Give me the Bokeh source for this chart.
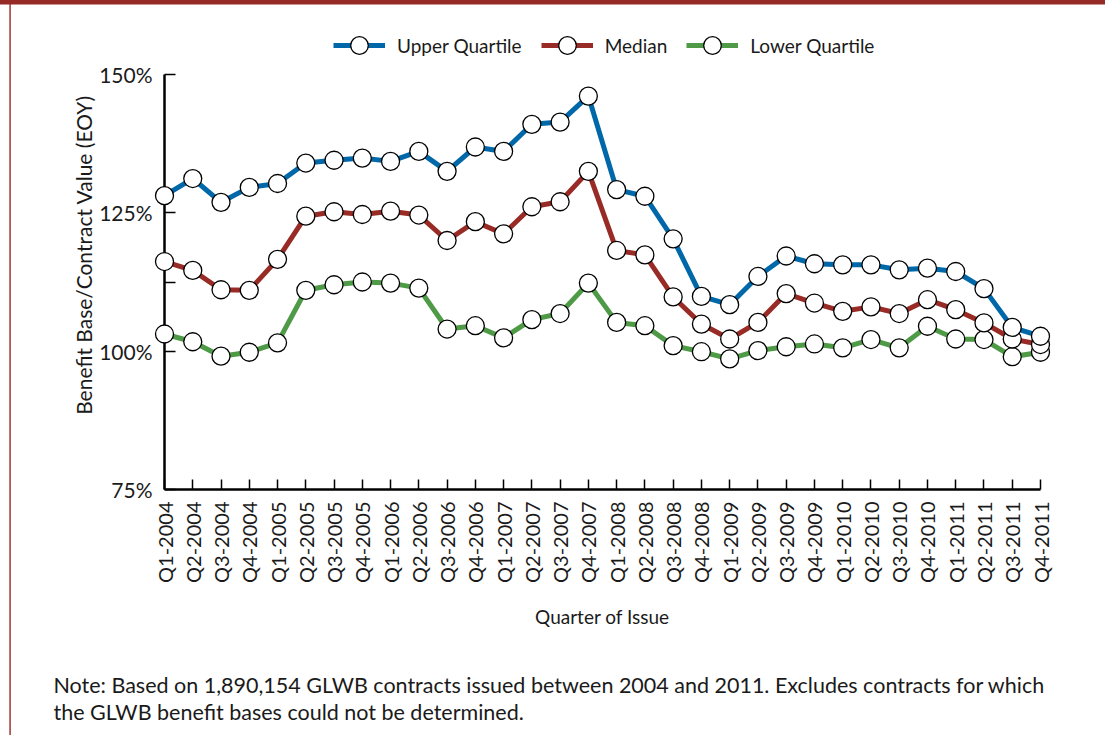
from bokeh.plotting import figure
from bokeh.models import (Range1d, FixedTicker, PrintfTickFormatter, Legend, LegendItem)
from bokeh.core.properties import value
from bokeh.embed import file_html
from bokeh.resources import INLINE
import math

quarters = ["Q1-2004", "Q2-2004", "Q3-2004", "Q4-2004",
            "Q1-2005", "Q2-2005", "Q3-2005", "Q4-2005",
            "Q1-2006", "Q2-2006", "Q3-2006", "Q4-2006",
            "Q1-2007", "Q2-2007", "Q3-2007", "Q4-2007",
            "Q1-2008", "Q2-2008", "Q3-2008", "Q4-2008",
            "Q1-2009", "Q2-2009", "Q3-2009", "Q4-2009",
            "Q1-2010", "Q2-2010", "Q3-2010", "Q4-2010",
            "Q1-2011", "Q2-2011", "Q3-2011", "Q4-2011"]

upper_quartile = [128.1, 131.2, 126.9, 129.6, 130.3, 134.0, 134.5, 134.9,
                  134.3, 136.1, 132.5, 136.9, 136.1, 141.0, 141.4, 146.1,
                  129.2, 128.0, 120.3, 109.9, 108.4, 113.5, 117.2, 115.8,
                  115.6, 115.6, 114.7, 115.0, 114.4, 111.3, 104.3, 102.7]

median = [116.2, 114.6, 111.1, 111.0, 116.6, 124.4, 125.2, 124.7,
          125.3, 124.6, 120.0, 123.4, 121.2, 126.1, 127.0, 132.5,
          118.2, 117.4, 109.8, 104.9, 102.2, 105.2, 110.4, 108.7,
          107.2, 108.0, 106.8, 109.3, 107.5, 105.1, 102.2, 101.2]

lower_quartile = [103.1, 101.7, 99.1, 99.8, 101.5, 111.0, 112.0, 112.5,
                  112.3, 111.4, 104.0, 104.6, 102.4, 105.7, 106.8, 112.3,
                  105.2, 104.6, 101.0, 99.9, 98.6, 100.1, 100.8, 101.3,
                  100.6, 102.1, 100.6, 104.5, 102.2, 102.1, 99.0, 99.8]

y_major_ticks = [75, 100, 125, 150]
y_minor_ticks = [112.5]

note_lines = ["Note: Based on 1,890,154 GLWB contracts issued between 2004 and 2011. Excludes contracts for which",
              "the GLWB benefit bases could not be determined."]

FONT = "Lato"
BLUE = "#0068a8"
RED = "#982b25"
GREEN = "#4e9a47"
FRAME = "#962a26"
TXT = "#1a1a1a"

xs = list(range(len(quarters)))

# frame reaches above the 150% line so that the legend sits inside it
p = figure(width=1105, height=735,
           min_border_left=164, min_border_right=65,
           min_border_top=20, min_border_bottom=246,
           x_range=Range1d(0, len(quarters) - 1), y_range=Range1d(75, 159.76),
           output_backend="svg", toolbar_location=None,
           background_fill_color="white", border_fill_color="white")
p.outline_line_color = None
p.grid.visible = False

# page frame: dark red band on top and thin line on the left (decoration)
p.quad(left=[-10], right=[40], bottom=[162.65], top=[170], fill_color=FRAME,
       line_color=None, level="overlay")
p.quad(left=[-5.49], right=[-5.44], bottom=[-30], top=[170], fill_color=FRAME,
       line_color=None, level="overlay")

series = [("Lower Quartile", lower_quartile, GREEN),
          ("Median", median, RED),
          ("Upper Quartile", upper_quartile, BLUE)]
items = {}
for name, vals, col in series:
    ln = p.line(xs, vals, line_color=col, line_width=5, level="overlay")
    sc = p.scatter(xs, vals, size=18, marker="circle", fill_color="white",
                   line_color="black", line_width=1.3, level="overlay")
    items[name] = [ln, sc]

# X axis
xa = p.xaxis[0]
xa.ticker = FixedTicker(ticks=xs)
xa.major_label_overrides = {i: q for i, q in enumerate(quarters)}
xa.major_label_orientation = math.pi / 2
xa.major_tick_in = 10
xa.major_tick_out = 0
xa.minor_tick_in = 0
xa.minor_tick_out = 0
xa.axis_line_width = 2.5
xa.major_tick_line_width = 1.5
xa.major_label_standoff = 12
xa.major_label_text_font = FONT
xa.major_label_text_font_size = "20px"
xa.major_label_text_color = TXT
xa.axis_label = "Quarter of Issue"
xa.axis_label_text_font = FONT
xa.axis_label_text_font_size = "19px"
xa.axis_label_text_font_style = "normal"
xa.axis_label_text_color = TXT
xa.axis_label_standoff = 19

# Y axis
ya = p.yaxis[0]
ya.bounds = (y_major_ticks[0], y_major_ticks[-1])
ya.ticker = FixedTicker(ticks=y_major_ticks, minor_ticks=y_minor_ticks)
ya.formatter = PrintfTickFormatter(format="%d%%")
ya.major_tick_in = 11
ya.major_tick_out = 0
ya.minor_tick_in = 11
ya.minor_tick_out = 0
ya.axis_line_width = 2.5
ya.major_tick_line_width = 1.5
ya.minor_tick_line_width = 1.5
ya.minor_tick_line_color = "black"
ya.major_label_standoff = 12
ya.major_label_text_font = FONT
ya.major_label_text_font_size = "21px"
ya.major_label_text_color = TXT
ya.axis_label = "Benefit Base/Contract Value (EOY)"
ya.axis_label_text_font = FONT
ya.axis_label_text_font_size = "21px"
ya.axis_label_text_font_style = "normal"
ya.axis_label_text_color = TXT
ya.axis_label_standoff = 0

legend = Legend(items=[LegendItem(label="Upper Quartile", renderers=items["Upper Quartile"]),
                       LegendItem(label="Median", renderers=items["Median"]),
                       LegendItem(label="Lower Quartile", renderers=items["Lower Quartile"])],
                orientation="horizontal", location=(169, 422),
                glyph_width=52, glyph_height=44, label_standoff=12, spacing=19,
                padding=0, margin=0, border_line_color=None, background_fill_alpha=0,
                label_text_font=FONT, label_text_font_size="19px", label_text_color=TXT)
p.add_layout(legend, "center")

# note below the chart
p.text(x=[-3.93, -3.93], y=[39.58, 34.70], text=note_lines,
       text_font=value(FONT), text_font_size="21.5px", text_color=TXT,
       text_baseline="middle", text_align="left", level="overlay")

open("out.html", "w").write(file_html(p, INLINE))
